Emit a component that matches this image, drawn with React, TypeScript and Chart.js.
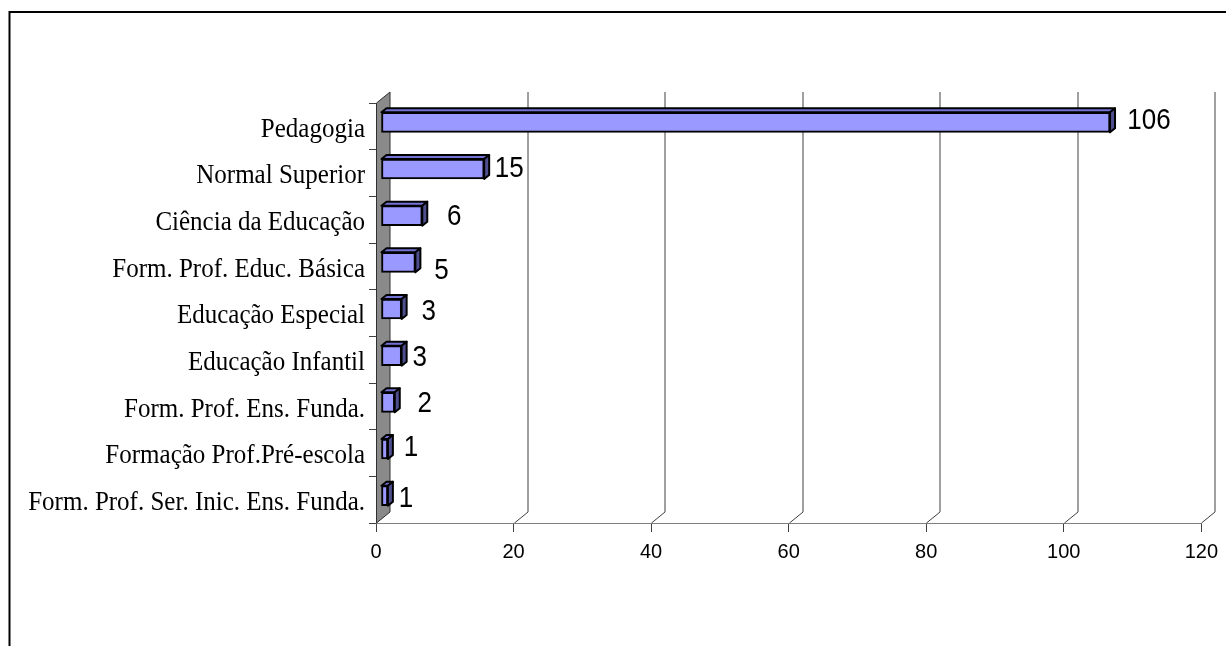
import { useEffect, useRef } from "react";
import { Chart, registerables } from "chart.js";

Chart.register(...registerables);

const categories = [
  "Pedagogia",
  "Normal Superior",
  "Ciência da Educação",
  "Form. Prof. Educ. Básica",
  "Educação Especial",
  "Educação Infantil",
  "Form. Prof. Ens. Funda.",
  "Formação Prof.Pré-escola",
  "Form. Prof. Ser. Inic. Ens. Funda.",
];

const counts = [106, 15, 6, 5, 3, 3, 2, 1, 1];

const xTicks = [0, 20, 40, 60, 80, 100, 120];

// hand-placed value labels: nudge from the bar end (x) and the band centre (y)
const labelNudgeX = [44, 30, 37, 31, 32, 23, 35, 28, 23];
const labelNudgeY = [-8, -6, -5, 2, -3, -4, -5, -7, -3];

// depth of the side wall / back gridlines
const WALL_DX = 13.5;
const WALL_DY = -11;
// bars sit half-way into the depth, with their own small 3D depth
const BAR_SHIFT_X = 5;
const BAR_SHIFT_Y = -4;
const BAR_DX = 5;
const BAR_DY = -4;
// text is drawn slightly taller than wide
const TEXT_STRETCH_Y = 1.1;

const GRID_COLOR = "#404040";
const AXIS_COLOR = "#808080";

function stretchedText(
  ctx: CanvasRenderingContext2D,
  text: string,
  x: number,
  baseline: number
) {
  ctx.save();
  ctx.translate(x, baseline);
  ctx.scale(1, TEXT_STRETCH_Y);
  ctx.fillText(text, 0, 0);
  ctx.restore();
}

const depthPlugin = {
  id: "depth3d",
  beforeDraw(chart: any) {
    const ctx = chart.ctx as CanvasRenderingContext2D;
    ctx.save();
    ctx.fillStyle = "#ffffff";
    ctx.fillRect(0, 0, chart.width, chart.height);
    ctx.strokeStyle = "#000000";
    ctx.lineWidth = 2;
    ctx.strokeRect(9.5, 12, chart.width + 40, chart.height + 40);
    ctx.restore();
  },
  beforeDatasetsDraw(chart: any) {
    const ctx = chart.ctx as CanvasRenderingContext2D;
    const { left, top, bottom } = chart.chartArea;
    const xs = chart.scales.x;
    ctx.save();
    ctx.strokeStyle = GRID_COLOR;
    ctx.lineWidth = 1;
    for (const v of xTicks) {
      if (v === 0) continue;
      const px = Math.round(xs.getPixelForValue(v)) + 0.5;
      ctx.beginPath();
      ctx.moveTo(px, bottom);
      ctx.lineTo(px + WALL_DX, bottom + WALL_DY);
      ctx.lineTo(px + WALL_DX, top + WALL_DY);
      ctx.stroke();
    }
    // grey side wall
    const lx = left + 0.5;
    ctx.beginPath();
    ctx.moveTo(lx, bottom);
    ctx.lineTo(lx, top);
    ctx.lineTo(lx + WALL_DX, top + WALL_DY);
    ctx.lineTo(lx + WALL_DX, bottom + WALL_DY);
    ctx.closePath();
    ctx.fillStyle = "#8a8a8a";
    ctx.fill();
    ctx.strokeStyle = "#303030";
    ctx.lineWidth = 1;
    ctx.stroke();
    ctx.restore();

    ctx.save();
    ctx.translate(BAR_SHIFT_X, BAR_SHIFT_Y);
  },
  afterDatasetsDraw(chart: any) {
    const ctx = chart.ctx as CanvasRenderingContext2D;
    const meta = chart.getDatasetMeta(0);
    ctx.lineWidth = 2;
    ctx.lineJoin = "round";
    ctx.strokeStyle = "#000000";
    meta.data.forEach((bar: any) => {
      const { x, y, base, height } = bar.getProps(["x", "y", "base", "height"], true);
      const t = y - height / 2;
      const b = y + height / 2;
      // top face
      ctx.beginPath();
      ctx.moveTo(base, t);
      ctx.lineTo(base + BAR_DX, t + BAR_DY);
      ctx.lineTo(x + BAR_DX, t + BAR_DY);
      ctx.lineTo(x, t);
      ctx.closePath();
      ctx.fillStyle = "#7373d6";
      ctx.fill();
      ctx.stroke();
      // end face
      ctx.beginPath();
      ctx.moveTo(x, t);
      ctx.lineTo(x + BAR_DX, t + BAR_DY);
      ctx.lineTo(x + BAR_DX, b + BAR_DY);
      ctx.lineTo(x, b);
      ctx.closePath();
      ctx.fillStyle = "#4f4f8f";
      ctx.fill();
      ctx.stroke();
    });
    ctx.restore();

    const xs = chart.scales.x;
    const ys = chart.scales.y;

    // value labels
    ctx.save();
    ctx.fillStyle = "#000000";
    ctx.font = "26px 'Liberation Sans', Arial, sans-serif";
    ctx.textAlign = "center";
    ctx.textBaseline = "alphabetic";
    counts.forEach((v, i) => {
      const cx = xs.getPixelForValue(v) + labelNudgeX[i];
      const cy = ys.getPixelForValue(i) + labelNudgeY[i];
      stretchedText(ctx, String(v), cx, cy + 10.3);
    });

    // category labels, right-aligned against the axis tick marks
    ctx.font = "25px 'Liberation Serif', 'Times New Roman', serif";
    ctx.textAlign = "right";
    categories.forEach((c, i) => {
      const cy = ys.getPixelForValue(i);
      stretchedText(ctx, c, ys.right - 11, cy + 10.4);
    });
    ctx.restore();
  },
};

export default function App() {
  const ref = useRef<HTMLCanvasElement>(null);

  useEffect(() => {
    const chart = new Chart(ref.current!, {
      type: "bar",
      data: {
        labels: categories,
        datasets: [
          {
            data: counts,
            backgroundColor: "#9999ff",
            borderColor: "#000000",
            borderWidth: 2,
            borderSkipped: false,
            barThickness: 20,
          },
        ],
      },
      options: {
        indexAxis: "y",
        animation: false,
        responsive: false,
        devicePixelRatio: 1,
        layout: { padding: { top: 103, right: 20, left: 0, bottom: 0 } },
        plugins: {
          legend: { display: false },
          tooltip: { enabled: false },
        },
        scales: {
          x: {
            type: "linear",
            min: 0,
            max: 120,
            afterFit(scale: any) {
              scale.height = 123;
            },
            afterBuildTicks(scale: any) {
              scale.ticks = xTicks.map((v) => ({ value: v }));
            },
            ticks: {
              color: "#000000",
              padding: 8,
              font: { family: "'Liberation Sans', Arial, sans-serif", size: 20 },
            },
            grid: {
              drawOnChartArea: false,
              drawTicks: true,
              tickLength: 9,
              color: GRID_COLOR,
            },
            border: { color: AXIS_COLOR, width: 1 },
          },
          y: {
            type: "category",
            afterFit(scale: any) {
              scale.width = 376;
            },
            ticks: {
              // the labels themselves are painted by depthPlugin
              color: "rgba(0,0,0,0)",
              padding: 5,
              font: { family: "'Liberation Serif', 'Times New Roman', serif", size: 25 },
            },
            grid: {
              offset: true,
              drawOnChartArea: false,
              drawTicks: true,
              tickLength: 7,
              color: GRID_COLOR,
            },
            border: { color: AXIS_COLOR, width: 1 },
          },
        },
      },
      plugins: [depthPlugin],
    } as any);
    return () => chart.destroy();
  }, []);

  return (
    <canvas
      ref={ref}
      width={1226}
      height={646}
      style={{ position: "fixed", left: 0, top: 0, width: 1226, height: 646 }}
    />
  );
}
